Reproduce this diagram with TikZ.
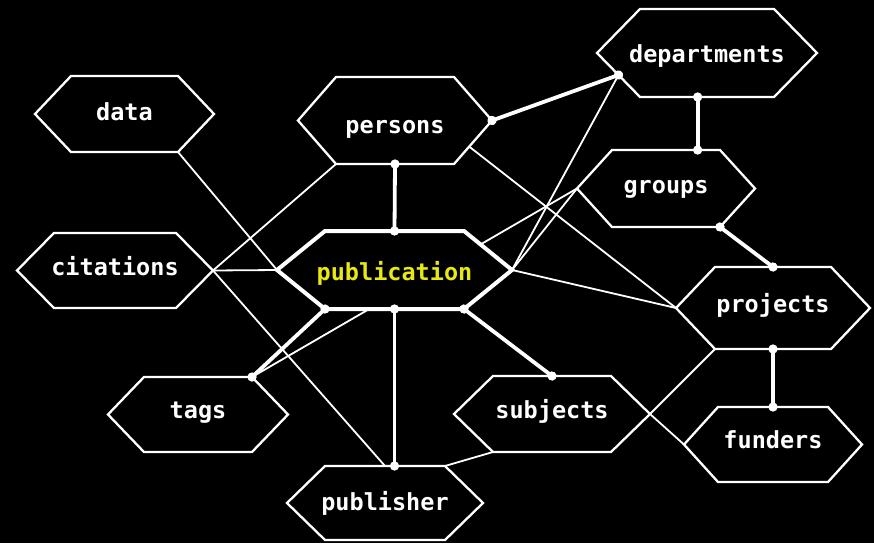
\documentclass[tikz,border=0pt]{standalone}
\usepackage{fontspec}
\setmonofont{DejaVu Sans Mono}
\usetikzlibrary{calc,arrows.meta,backgrounds}
\definecolor{pubyellow}{RGB}{232,232,20}
\tikzset{
        hexline/.style={draw=white, line width=2.3pt, fill=black, line join=miter},
        hexbold/.style={hexline, line width=4pt},
        hextext/.style={text=white, anchor=base, inner sep=0pt, font=\ttfamily\bfseries\fontsize{23.5}{28}\selectfont},
        pubtext/.style={hextext, text=pubyellow},
        thinlink/.style={white, line width=1.8pt},
        thicklink/.style={white, line width=3.8pt, {Circle[length=9pt]}-{Circle[length=9pt]}, shorten <=-4.5pt, shorten >=-4.5pt}
}
\begin{document}
\begin{tikzpicture}[x=1pt, y=-1pt]
        \useasboundingbox (0, 0) rectangle (874, 543);
        \foreach \name/\lx/\rx/\ty/\by/\ins/\bl/\hs/\ts in {
                data/35/214/76/152/36/120/hexline/hextext,
                persons/298/492/77/164/38/133/hexline/hextext,
                citations/17/213/233/308/37/275/hexline/hextext,
                publication/277/512/231/309/48/280/hexbold/pubtext,
                departments/597/817/9/97/43/63/hexline/hextext,
                groups/577/755/150/227/35/193/hexline/hextext,
                projects/676/870/267/349/39/312/hexline/hextext,
                subjects/454/650/376/452/39/418/hexline/hextext,
                funders/684/862/407/482/34/448/hexline/hextext,
                tags/108/288/377/452/36/418/hexline/hextext,
                publisher/287/483/466/540/38/510/hexline/hextext}{
                \pgfmathsetmacro{\my}{(\ty+\by)/2}
                \coordinate (\name-w) at (\lx, \my);
                \coordinate (\name-e) at (\rx, \my);
                \coordinate (\name-nw) at (\lx+\ins, \ty);
                \coordinate (\name-ne) at (\rx-\ins, \ty);
                \coordinate (\name-sw) at (\lx+\ins, \by);
                \coordinate (\name-se) at (\rx-\ins, \by);
                \coordinate (\name-n) at ({(\lx+\rx)/2}, \ty);
                \coordinate (\name-s) at ({(\lx+\rx)/2}, \by);
                \draw [\hs] (\name-w) -- (\name-nw) -- (\name-ne) -- (\name-e) -- (\name-se) -- (\name-sw) -- cycle;
                \node [\ts] (\name) at ({(\lx+\rx)/2}, \bl) {\name};
            }
        \coordinate (persons-port) at ($(persons-e)!0.6!(persons-se)$);
        \coordinate (departments-port) at ($(departments-w)!0.5!(departments-sw)$);
        \coordinate (departments-bot) at ($(departments-sw)!0.43!(departments-se)$);
        \coordinate (groups-top) at (departments-bot |- groups-n);
        \coordinate (publisher-top) at (publication-s |- publisher-n);
        \begin{scope}[on background layer]
                \fill [black] (0, 0) rectangle (874, 543);
                \foreach \a/\b in {data-se/publication-w, citations-e/publication-w, citations-e/persons-sw,
                        citations-e/publisher-n, persons-port/projects-w, publication-e/projects-w,
                        publication-e/departments-port, publication-e/groups-w, tags-ne/groups-w,
                        subjects-e/projects-sw, subjects-e/funders-w, subjects-sw/publisher-ne}
                        \draw [thinlink] (\a) -- (\b);
        \end{scope}
        \foreach \a/\b in {persons-s/publication-n, persons-e/departments-port, departments-bot/groups-top,
                groups-se/projects-n, projects-s/funders-n, publication-se/subjects-n,
                publication-s/publisher-top, publication-sw/tags-ne}
                \draw [thicklink] (\a) -- (\b);
\end{tikzpicture}
\end{document}
